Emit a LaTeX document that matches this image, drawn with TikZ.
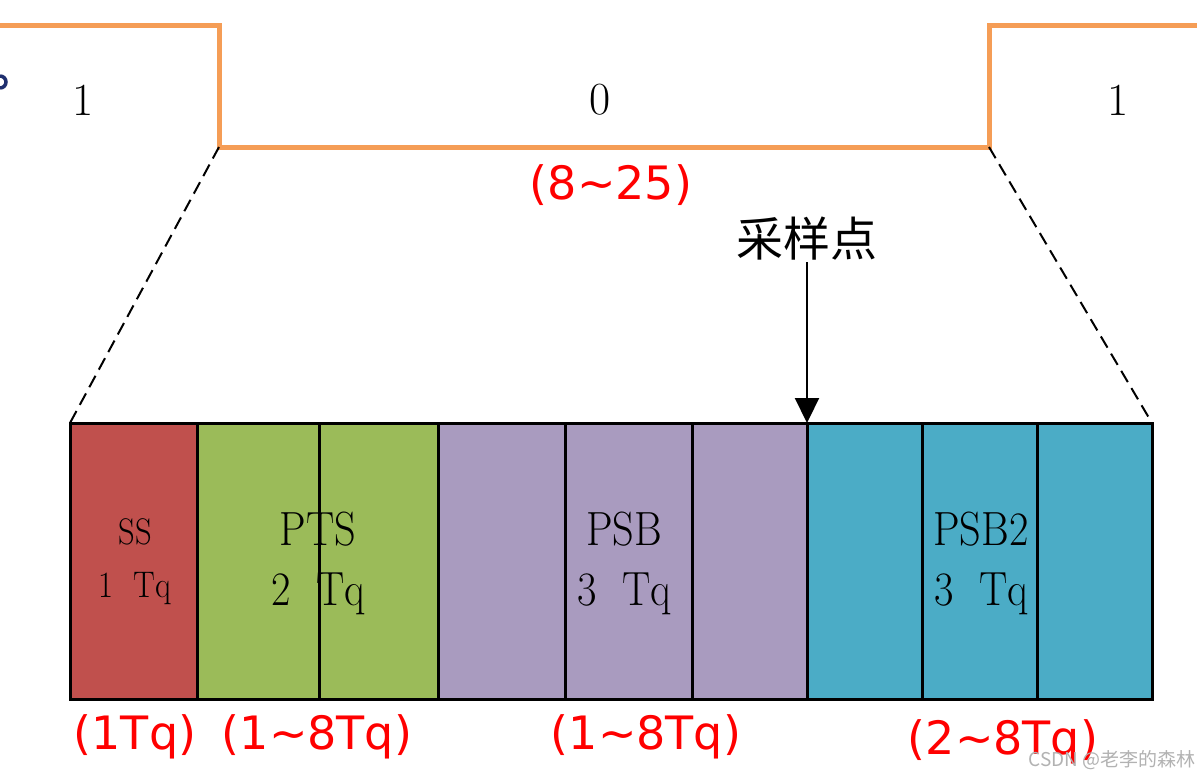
\documentclass[tikz,border=0pt]{standalone}
\usepackage{fontspec}
\newfontfamily\cjk{Noto Sans CJK SC}
\newfontfamily\redsans{DejaVu Sans}
\newfontfamily\narrowserif{Latin Modern Roman}[FakeStretch=0.88]
\usetikzlibrary{arrows.meta}
\definecolor{wave}{HTML}{F59D56}
\definecolor{ssred}{HTML}{C0504D}
\definecolor{ptsgreen}{HTML}{9BBB59}
\definecolor{psbpurple}{HTML}{A99BBF}
\definecolor{psbteal}{HTML}{4BACC6}
\definecolor{labred}{HTML}{FF0000}
\definecolor{navy}{HTML}{1F2F6F}
\tikzset{
  bit/.style={inner sep=0pt, font=\fontsize{46}{50}\selectfont},
  seglab/.style={inner sep=0pt, align=center, font=\narrowserif\fontsize{48}{60}\selectfont},
  redlab/.style={inner sep=0pt, text=labred, font=\redsans\fontsize{46}{50}\selectfont},
  seg/.style={draw=black, line width=3pt},
  zoomline/.style={line width=2pt, dash pattern=on 13pt off 7pt},
}
\begin{document}
\begin{tikzpicture}[x=1pt,y=-1pt]
\useasboundingbox[fill=white] (0,0) rectangle (1197,780);
% partial glyph at left edge
\draw[navy, line width=3.5pt] (0,88) arc[start angle=90, end angle=-90, radius=6];
% waveform
\coordinate (w0) at (0,25.5);
\coordinate (fallT) at (219,25.5);
\coordinate (fallB) at (219,147);
\coordinate (riseB) at (989,147);
\coordinate (riseT) at (989,25.5);
\coordinate (w1) at (1197,25.5);
\draw[wave, line width=5pt, line join=miter] (w0) -- (fallT) -- (fallB) -- (riseB) -- (riseT) -- (w1);
\node[bit] (b1) at (83,100) {1};
\node[bit] (b0) at (600,100) {0};
\node[bit] (b2) at (1118,100) {1};
\node[redlab] (tot) at (611,185) {(8\textasciitilde 25)};
% segments
\fill[ssred] (70,423) rectangle (197,699);
\fill[ptsgreen] (197,423) rectangle (438,699);
\fill[psbpurple] (438,423) rectangle (807,699);
\fill[psbteal] (807,423) rectangle (1152,699);
\coordinate (boxL) at (70,423);
\coordinate (boxR) at (1152,423);
\foreach \x in {197,319,438,565,692,807,922,1037}
  \draw[seg] (\x,423) -- (\x,699);
\draw[seg] (70,423) rectangle (1152,699);
% dashed zoom lines
\draw[zoomline] (fallB) -- (boxL);
\draw[zoomline] (riseB) -- (boxR);
% sample point
\node[inner sep=0pt, font=\cjk\fontsize{47}{50}\selectfont] (sp) at (807,239) {采样点};
\coordinate (spT) at (807,423);
\draw[line width=2.2pt, -{Triangle[length=25pt,width=24pt]}] (807,262) -- (spT);
% segment labels
\node[inner sep=0pt, align=center, font=\narrowserif\fontsize{37}{53}\selectfont] (ss) at (135,562) {SS\\1\ \ Tq};
\node[seglab] (pts) at (318,563) {PTS\\2\ \ Tq};
\node[seglab] (psb) at (624,563) {PSB\\3\ \ Tq};
\node[seglab] (psb2) at (981,563) {PSB2\\3\ \ Tq};
% red bottom labels
\node[redlab] (l1) at (135,737) {(1Tq)};
\node[redlab] (l2) at (317,737) {(1\textasciitilde 8Tq)};
\node[redlab] (l3) at (646,737) {(1\textasciitilde 8Tq)};
\node[redlab] (l4) at (1003,742) {(2\textasciitilde 8Tq)};
% watermark
\node[inner sep=0pt, text=black!30, font=\cjk\fontsize{19}{20}\selectfont] (wm) at (1112,760) {CSDN @老李的森林};
\end{tikzpicture}
\end{document}
